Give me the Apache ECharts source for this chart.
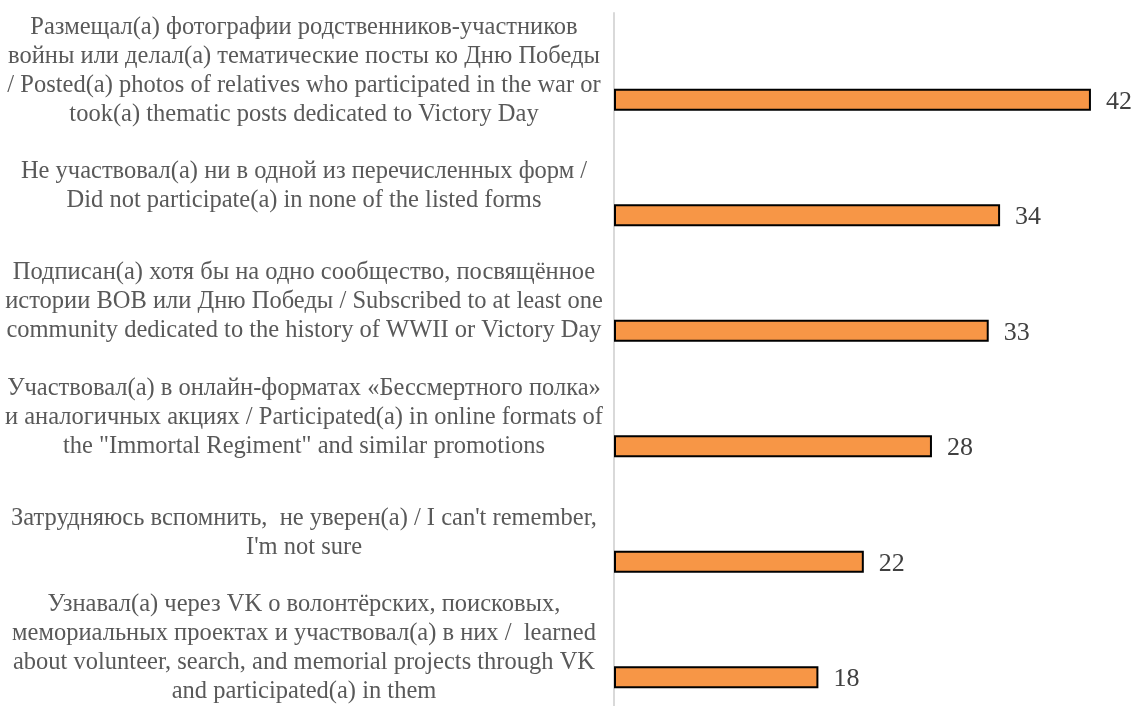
<!DOCTYPE html>
<html>
<head>
<meta charset="utf-8">
<script src="https://cdn.jsdelivr.net/npm/echarts@6/dist/echarts.min.js"></script>
<style>
html,body{margin:0;padding:0;background:#fff;}
#chart{width:1134px;height:706px;}
</style>
</head>
<body>
<div id="chart"></div>
<script>
const categories = [
  'Размещал(а) фотографии родственников-участников\nвойны или делал(а) тематические посты ко Дню Победы\n/ Posted(a) photos of relatives who participated in the war or\ntook(a) thematic posts dedicated to Victory Day',
  'Не участвовал(а) ни в одной из перечисленных форм /\nDid not participate(a) in none of the listed forms',
  'Подписан(а) хотя бы на одно сообщество, посвящённое\nистории ВОВ или Дню Победы / Subscribed to at least one\ncommunity dedicated to the history of WWII or Victory Day',
  'Участвовал(а) в онлайн-форматах «Бессмертного полка»\nи аналогичных акциях / Participated(a) in online formats of\nthe "Immortal Regiment" and similar promotions',
  'Затрудняюсь вспомнить,  не уверен(а) / I can\'t remember,\nI\'m not sure',
  'Узнавал(а) через VK о волонтёрских, поисковых,\nмемориальных проектах и участвовал(а) в них /  learned\nabout volunteer, search, and memorial projects through VK\nand participated(a) in them'
];
const values = [42, 34, 33, 28, 22, 18];

const chart = echarts.init(document.getElementById('chart'));
chart.setOption({
  animation: false,
  grid: { left: 614, top: 13, width: 511, height: 703, containLabel: false },
  xAxis: {
    type: 'value', min: 0, max: 45,
    show: false
  },
  yAxis: {
    type: 'category',
    data: categories,
    inverse: true,
    axisLine: { show: true, lineStyle: { color: '#d9d9d9', width: 2 } },
    axisTick: { show: false },
    axisLabel: {
      margin: 310,
      align: 'center',
      fontFamily: '"Liberation Serif", "Times New Roman", serif',
      fontSize: 24.5,
      lineHeight: 29,
      color: '#595959'
    }
  },
  series: [
    { type: 'bar', data: [], barWidth: 22, barGap: '164%' },
    {
      type: 'bar',
      data: values,
      barWidth: 22,
      barGap: '164%',
      itemStyle: { color: '#F79646', borderColor: '#000', borderWidth: 2 },
      label: {
        show: true, position: 'right', distance: 15, offset: [0, 2],
        fontFamily: '"Liberation Serif", "Times New Roman", serif',
        fontSize: 26, color: '#404040'
      }
    }
  ]
});
</script>
</body>
</html>
